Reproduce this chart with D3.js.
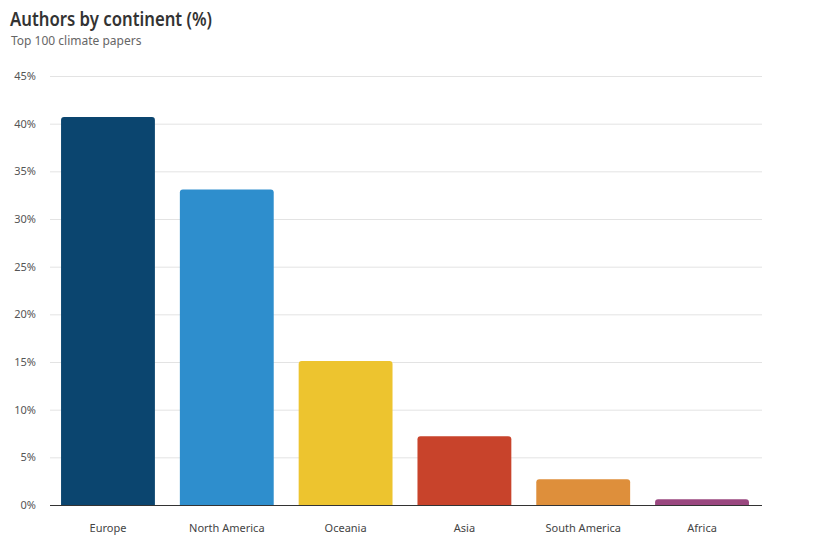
<!DOCTYPE html>
<html>
<head>
<meta charset="utf-8">
<script src="https://cdn.jsdelivr.net/npm/d3@7"></script>
<style>
  body { margin: 0; background: #fff; }
  text { font-family: "Noto Sans", sans-serif; }
</style>
</head>
<body>
<div id="container"></div>
<script>
const continents = ["Europe", "North America", "Oceania", "Asia", "South America", "Africa"];
const shares = [40.7, 33.1, 15.1, 7.2, 2.7, 0.6];
const barColors = ["#0b456f", "#2e8ecd", "#edc42f", "#c8432b", "#de8f3b", "#9a4880"];
const yTicks = [0, 5, 10, 15, 20, 25, 30, 35, 40, 45];

const w = 815;
const h = 541;
const plotLeft = 50, plotRight = 762, plotTop = 76, plotBottom = 505;

const svg = d3.select("#container")
  .append("svg")
  .attr("width", w)
  .attr("height", h);

svg.append("text")
  .attr("x", 10)
  .attr("y", 26)
  .attr("fill", "#333")
  .attr("textLength", 202)
  .attr("lengthAdjust", "spacingAndGlyphs")
  .style("font-size", "19px")
  .style("font-weight", 600)
  .text("Authors by continent (%)");

svg.append("text")
  .attr("x", 11)
  .attr("y", 45)
  .attr("fill", "#666")
  .style("font-size", "12px")
  .text("Top 100 climate papers");

const yScale = d3.scaleLinear()
  .domain([0, 45])
  .range([plotBottom, plotTop]);

const xScale = d3.scaleBand()
  .domain(continents)
  .range([plotLeft, plotRight - 2])
  .paddingInner(0.21)
  .paddingOuter(0.093);

// gridlines
const yAxis = d3.axisLeft(yScale)
  .tickValues(yTicks)
  .tickSize(-(plotRight - plotLeft))
  .tickPadding(14)
  .tickFormat((d) => d + "%");

svg.append("g")
  .attr("transform", "translate(" + plotLeft + ", 0)")
  .call(yAxis)
  .call((g) => g.select(".domain").remove())
  .call((g) => g.selectAll(".tick line").attr("stroke", "#e3e3e3"))
  .call((g) => g.selectAll(".tick text")
    .attr("fill", "#555")
    .style("font-size", "11px"));

// bars with rounded tops
const r = 3;
svg.selectAll("path.bar")
  .data(continents)
  .enter()
  .append("path")
  .attr("class", "bar")
  .attr("fill", (d, i) => barColors[i])
  .attr("d", (d, i) => {
    const x0 = xScale(d);
    const x1 = x0 + xScale.bandwidth();
    const y0 = yScale(shares[i]);
    const y1 = yScale(0);
    const rr = Math.min(r, (y1 - y0));
    return "M" + x0 + "," + y1 +
      "V" + (y0 + rr) +
      "Q" + x0 + "," + y0 + " " + (x0 + rr) + "," + y0 +
      "H" + (x1 - rr) +
      "Q" + x1 + "," + y0 + " " + x1 + "," + (y0 + rr) +
      "V" + y1 + "Z";
  });

const xAxis = d3.axisBottom(xScale).tickSize(0).tickPadding(19);
svg.append("g")
  .attr("transform", "translate(0, " + plotBottom + ")")
  .call(xAxis)
  .call((g) => g.select(".domain").attr("d", "M" + plotLeft + ",0.5H" + plotRight).attr("stroke", "#333"))
  .call((g) => g.selectAll(".tick text")
    .attr("fill", "#444")
    .style("font-size", "11px"));
</script>
</body>
</html>
